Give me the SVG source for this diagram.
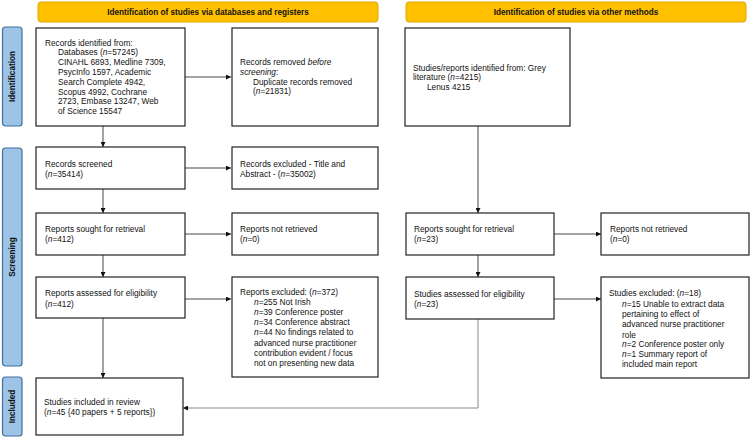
<svg xmlns="http://www.w3.org/2000/svg" width="750" height="438" viewBox="0 0 750 438">
<defs>
<marker id="ah" viewBox="0 0 10 10" refX="10" refY="5" markerWidth="5" markerHeight="5" orient="auto" markerUnits="userSpaceOnUse">
<path d="M0,0 L10,5 L0,10 z" fill="#111"/>
</marker>
<style>
text{font-family:"Liberation Sans",Arial,sans-serif;font-size:8.3px;fill:#111}
.box{fill:#fff;stroke:#222;stroke-width:1.2}
.hdr{fill:#FFC000;stroke:#E0A800;stroke-width:1}
.hdrt{font-weight:bold;text-anchor:middle;font-size:8.2px}
.side{fill:#9DC3E6;stroke:#41719C;stroke-width:1.2}
.sidet{font-weight:bold;text-anchor:middle;font-size:8.2px}
.con{fill:none;stroke:#333;stroke-width:0.9;marker-end:url(#ah)}
.con2{fill:none;stroke:#888;stroke-width:1;marker-end:url(#ah)}
</style>
</defs>
<rect width="750" height="438" fill="#fff"/>

<g id="header-db"><rect class="hdr" x="38" y="2" width="340" height="20" rx="3"/><text class="hdrt" x="208" y="15">Identification of studies via databases and registers</text></g>
<g id="header-other"><rect class="hdr" x="406" y="2" width="340" height="20" rx="3"/><text class="hdrt" x="576" y="15">Identification of studies via other methods</text></g>

<g id="side-identification"><rect class="side" x="2.5" y="27" width="19.5" height="99" rx="3"/><text class="sidet" transform="translate(15,76.5) rotate(-90)">Identification</text></g>
<g id="side-screening"><rect class="side" x="2.5" y="148" width="19.5" height="218" rx="3"/><text class="sidet" transform="translate(15,257) rotate(-90)">Screening</text></g>
<g id="side-included"><rect class="side" x="2.5" y="377" width="19.5" height="59" rx="3"/><text class="sidet" transform="translate(15,406.5) rotate(-90)">Included</text></g>

<g id="connectors">
<line class="con" x1="185" y1="77" x2="231" y2="77"/>
<line class="con" x1="103" y1="126" x2="103" y2="147"/>
<line class="con" x1="185" y1="168" x2="231" y2="168"/>
<line class="con" x1="103" y1="189" x2="103" y2="213"/>
<line class="con" x1="185" y1="234" x2="231" y2="234"/>
<line class="con" x1="103" y1="255" x2="103" y2="277"/>
<line class="con" x1="185" y1="299" x2="231" y2="299"/>
<line class="con" x1="103" y1="318" x2="103" y2="378"/>
<line class="con" x1="478" y1="126" x2="478" y2="213"/>
<line class="con" x1="554" y1="234" x2="601" y2="234"/>
<line class="con" x1="478" y1="255" x2="478" y2="277"/>
<line class="con" x1="554" y1="299" x2="601" y2="299"/>
<path class="con2" d="M478,319 V408 H183"/>
</g>

<g id="records-identified"><rect class="box" x="36" y="28" width="149" height="98"/>
<text x="45" y="45.5">Records identified from:</text>
<text x="58" y="55.3">Databases (<tspan font-style="italic">n</tspan>=57245)</text>
<text x="58" y="65.1">CINAHL 6893, Medline 7309,</text>
<text x="58" y="74.9">PsycInfo 1597, Academic</text>
<text x="58" y="84.7">Search Complete 4942,</text>
<text x="58" y="94.5">Scopus 4992, Cochrane</text>
<text x="58" y="104.3">2723, Embase 13247, Web</text>
<text x="58" y="114.1">of Science 15547</text>
</g>
<g id="records-removed"><rect class="box" x="232" y="28" width="146" height="98"/>
<text x="240" y="65">Records removed <tspan font-style="italic">before</tspan></text>
<text x="240" y="74.8"><tspan font-style="italic">screening</tspan>:</text>
<text x="253" y="84.6">Duplicate records removed</text>
<text x="253" y="94.4">(<tspan font-style="italic">n</tspan>=21831)</text>
</g>
<g id="other-identified"><rect class="box" x="405" y="28" width="165" height="98"/>
<text x="413" y="70.5">Studies/reports identified from: Grey</text>
<text x="413" y="80.3">literature (<tspan font-style="italic">n</tspan>=4215)</text>
<text x="427" y="90.1">Lenus 4215</text>
</g>
<g id="records-screened"><rect class="box" x="36" y="147" width="149" height="42"/>
<text x="45" y="167">Records screened</text>
<text x="45" y="177">(<tspan font-style="italic">n</tspan>=35414)</text>
</g>
<g id="records-excluded"><rect class="box" x="232" y="147" width="146" height="42"/>
<text x="240" y="167">Records excluded - Title and</text>
<text x="240" y="177">Abstract - (<tspan font-style="italic">n</tspan>=35002)</text>
</g>
<g id="reports-sought"><rect class="box" x="36" y="213" width="149" height="42"/>
<text x="45" y="232">Reports sought for retrieval</text>
<text x="45" y="242">(<tspan font-style="italic">n</tspan>=412)</text>
</g>
<g id="reports-not-retrieved"><rect class="box" x="232" y="213" width="146" height="42"/>
<text x="240" y="232">Reports not retrieved</text>
<text x="240" y="242">(<tspan font-style="italic">n</tspan>=0)</text>
</g>
<g id="reports-assessed"><rect class="box" x="36" y="277" width="149" height="41"/>
<text x="45" y="296">Reports assessed for eligibility</text>
<text x="45" y="306.5">(<tspan font-style="italic">n</tspan>=412)</text>
</g>
<g id="reports-excluded"><rect class="box" x="232" y="277" width="146" height="100"/>
<text x="240" y="294.5">Reports excluded: (<tspan font-style="italic">n</tspan>=372)</text>
<text x="254" y="304.7"><tspan font-style="italic">n</tspan>=255 Not Irish</text>
<text x="254" y="314.9"><tspan font-style="italic">n</tspan>=39 Conference poster</text>
<text x="254" y="325.1"><tspan font-style="italic">n</tspan>=34 Conference abstract</text>
<text x="254" y="335.3"><tspan font-style="italic">n</tspan>=44 No findings related to</text>
<text x="254" y="345.5">advanced nurse practitioner</text>
<text x="254" y="355.7">contribution evident / focus</text>
<text x="254" y="365.9">not on presenting new data</text>
</g>
<g id="studies-included"><rect class="box" x="36" y="378" width="147" height="57"/>
<text x="44" y="405">Studies included in review</text>
<text x="44" y="415">(<tspan font-style="italic">n</tspan>=45 {40 papers + 5 reports})</text>
</g>
<g id="other-sought"><rect class="box" x="406" y="213" width="148" height="42"/>
<text x="414" y="232">Reports sought for retrieval</text>
<text x="414" y="242">(<tspan font-style="italic">n</tspan>=23)</text>
</g>
<g id="other-not-retrieved"><rect class="box" x="601" y="213" width="148" height="42"/>
<text x="610" y="232">Reports not retrieved</text>
<text x="610" y="242">(<tspan font-style="italic">n</tspan>=0)</text>
</g>
<g id="other-assessed"><rect class="box" x="406" y="277" width="148" height="42"/>
<text x="414" y="296.5">Studies assessed for eligibility</text>
<text x="414" y="306.5">(<tspan font-style="italic">n</tspan>=23)</text>
</g>
<g id="other-excluded"><rect class="box" x="601" y="277" width="148" height="101"/>
<text x="609" y="296.3">Studies excluded: (<tspan font-style="italic">n</tspan>=18)</text>
<text x="622" y="307"><tspan font-style="italic">n</tspan>=15 Unable to extract data</text>
<text x="622" y="317.3">pertaining to effect of</text>
<text x="622" y="327">advanced nurse practitioner</text>
<text x="622" y="338">role</text>
<text x="622" y="347.3"><tspan font-style="italic">n</tspan>=2 Conference poster only</text>
<text x="622" y="357"><tspan font-style="italic">n</tspan>=1 Summary report of</text>
<text x="622" y="367.3">included main report</text>
</g>
</svg>
